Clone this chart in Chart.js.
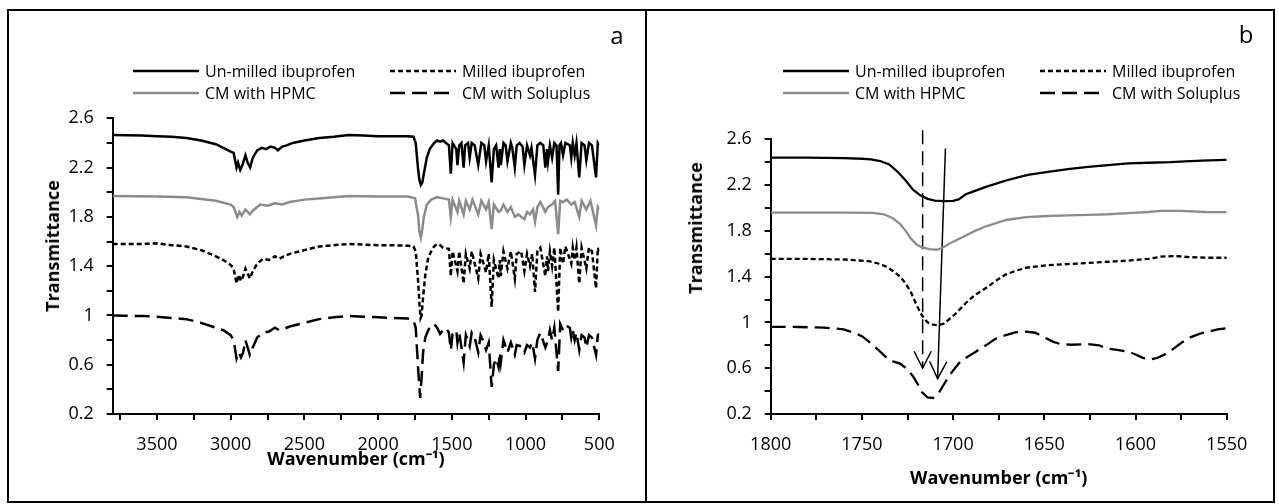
<!DOCTYPE html>
<html>
<head>
<meta charset="utf-8">
<script src="https://cdn.jsdelivr.net/npm/chart.js@4.4.1/dist/chart.umd.min.js"></script>
<style>
body { margin: 0; background: #fff; font-family: "Open Sans", sans-serif; }
#wrap { position: relative; width: 1279px; height: 504px; overflow: hidden; }
.frame { position: absolute; border: 2px solid #000; box-sizing: border-box; }
.chartbox { position: absolute; top: 0; height: 504px; }
.letter { position: absolute; font-size: 24px; color: #000; line-height: 1; transform: translate(-50%, -50%); }
.ytitle { position: absolute; font-size: 18px; font-weight: bold; color: #000; white-space: nowrap; line-height: 1; transform: translate(-50%, -50%) rotate(-90deg); }
.legend { position: absolute; font-size: 16px; color: #000; }
.legend .item { position: absolute; white-space: nowrap; display: flex; align-items: center; height: 22px; line-height: 22px; }
.legend svg { margin-right: 6px; }
</style>
</head>
<body>
<div id="wrap">
  <div class="frame" style="left:7px;top:9px;width:640px;height:494px;"></div>
  <div class="frame" style="left:645px;top:9px;width:630px;height:494px;"></div>
  <div class="chartbox" style="left:0;width:645px;"><canvas id="chartA"></canvas></div>
  <div class="chartbox" style="left:645px;width:634px;"><canvas id="chartB"></canvas></div>
  <div class="letter" style="left:617px;top:35px;">a</div>
  <div class="letter" style="left:1246px;top:34px;">b</div>
  <div class="ytitle" style="left:52px;top:246px;">Transmittance</div>
  <div class="ytitle" style="left:695px;top:228px;">Transmittance</div>
  <div class="legend" id="legendA" style="left:133px;top:60px;"></div>
  <div class="legend" id="legendB" style="left:783px;top:60px;"></div>
</div>
<script>
// series labels
const seriesNames = ["Un-milled ibuprofen", "Milled ibuprofen", "CM with HPMC", "CM with Soluplus"];

// panel a: full spectrum, [wavenumber, transmittance]
const unmilledA = [[3800,2.465],[3700,2.462],[3600,2.46],[3500,2.455],[3400,2.45],[3300,2.44],[3200,2.42],[3100,2.39],[3050,2.36],[3000,2.33],[2980,2.32],[2960,2.2],[2950,2.24],[2935,2.18],[2920,2.22],[2900,2.3],[2885,2.24],[2868,2.2],[2850,2.28],[2820,2.34],[2790,2.36],[2760,2.35],[2730,2.37],[2700,2.36],[2680,2.34],[2650,2.37],[2620,2.38],[2580,2.4],[2500,2.42],[2400,2.44],[2300,2.45],[2200,2.465],[2100,2.46],[2000,2.455],[1900,2.455],[1800,2.455],[1760,2.45],[1745,2.4],[1730,2.2],[1720,2.1],[1710,2.06],[1700,2.08],[1690,2.15],[1670,2.28],[1650,2.35],[1620,2.4],[1600,2.42],[1580,2.41],[1560,2.42],[1540,2.4],[1520,2.38],[1507,2.15],[1495,2.4],[1470,2.35],[1462,2.22],[1450,2.38],[1435,2.4],[1420,2.2],[1410,2.38],[1390,2.4],[1379,2.28],[1365,2.4],[1345,2.38],[1321,2.22],[1300,2.4],[1280,2.38],[1268,2.25],[1250,2.38],[1230,2.08],[1215,2.35],[1200,2.38],[1183,2.2],[1175,2.35],[1168,2.22],[1150,2.4],[1135,2.38],[1123,2.25],[1100,2.4],[1090,2.36],[1073,2.2],[1060,2.38],[1040,2.4],[1020,2.37],[1008,2.22],[990,2.38],[970,2.3],[960,2.36],[936,2.14],[920,2.38],[900,2.4],[880,2.38],[866,2.2],[855,2.35],[848,2.25],[835,2.38],[820,2.28],[805,2.4],[790,2.38],[779,1.98],[770,2.38],[760,2.4],[746,2.3],[730,2.4],[700,2.38],[690,2.28],[680,2.4],[667,2.3],[655,2.4],[636,2.12],[620,2.4],[600,2.38],[588,2.26],[570,2.4],[550,2.38],[522,2.12],[510,2.4],[500,2.38]];
const milledA = [[3800,1.58],[3600,1.58],[3500,1.585],[3400,1.57],[3300,1.56],[3200,1.53],[3100,1.48],[3050,1.45],[3000,1.41],[2980,1.38],[2960,1.26],[2945,1.33],[2930,1.28],[2915,1.32],[2900,1.38],[2870,1.3],[2850,1.36],[2820,1.42],[2780,1.46],[2740,1.45],[2700,1.48],[2670,1.46],[2640,1.48],[2600,1.5],[2500,1.53],[2400,1.56],[2300,1.57],[2200,1.58],[2100,1.575],[2000,1.57],[1900,1.57],[1800,1.565],[1760,1.56],[1745,1.52],[1730,1.3],[1720,1.1],[1712,0.98],[1705,1.0],[1695,1.15],[1680,1.33],[1660,1.47],[1640,1.52],[1620,1.56],[1600,1.58],[1580,1.57],[1560,1.55],[1520,1.54],[1507,1.32],[1495,1.52],[1462,1.36],[1450,1.52],[1420,1.26],[1405,1.5],[1379,1.38],[1365,1.52],[1321,1.3],[1305,1.5],[1268,1.35],[1250,1.5],[1230,1.07],[1215,1.45],[1183,1.3],[1175,1.45],[1168,1.32],[1150,1.52],[1123,1.38],[1100,1.52],[1073,1.3],[1060,1.5],[1030,1.52],[1008,1.36],[990,1.5],[970,1.4],[955,1.5],[936,1.19],[920,1.52],[900,1.55],[866,1.32],[855,1.48],[848,1.36],[835,1.52],[820,1.4],[805,1.55],[779,1.03],[765,1.55],[746,1.42],[730,1.56],[690,1.42],[680,1.55],[667,1.45],[655,1.55],[636,1.26],[620,1.55],[588,1.38],[570,1.55],[550,1.52],[522,1.22],[510,1.55],[500,1.52]];
const hpmcA = [[3800,1.97],[3500,1.965],[3300,1.96],[3100,1.93],[3000,1.9],[2980,1.88],[2955,1.8],[2940,1.84],[2925,1.81],[2900,1.86],[2870,1.82],[2850,1.85],[2800,1.9],[2750,1.89],[2700,1.91],[2650,1.9],[2600,1.92],[2500,1.94],[2400,1.95],[2200,1.97],[2000,1.965],[1800,1.965],[1750,1.95],[1730,1.82],[1720,1.68],[1710,1.63],[1700,1.7],[1690,1.8],[1670,1.9],[1640,1.94],[1600,1.96],[1560,1.95],[1520,1.94],[1507,1.8],[1495,1.94],[1462,1.84],[1450,1.93],[1420,1.82],[1405,1.93],[1379,1.86],[1360,1.94],[1321,1.82],[1300,1.93],[1268,1.86],[1250,1.92],[1230,1.7],[1215,1.9],[1183,1.84],[1168,1.85],[1150,1.9],[1123,1.84],[1100,1.88],[1073,1.8],[1050,1.82],[1030,1.8],[1008,1.78],[990,1.84],[970,1.82],[950,1.86],[936,1.76],[920,1.88],[900,1.92],[866,1.84],[848,1.88],[820,1.9],[800,1.93],[779,1.66],[765,1.93],[746,1.92],[720,1.94],[690,1.9],[667,1.92],[636,1.8],[620,1.93],[588,1.86],[560,1.93],[522,1.73],[510,1.88],[500,1.86]];
const soluplusA = [[3800,1.0],[3600,0.995],[3500,0.99],[3400,0.98],[3300,0.97],[3200,0.94],[3100,0.9],[3050,0.88],[3000,0.84],[2980,0.8],[2960,0.65],[2945,0.7],[2930,0.66],[2915,0.7],[2900,0.8],[2870,0.68],[2850,0.74],[2820,0.82],[2780,0.86],[2740,0.87],[2700,0.9],[2670,0.88],[2640,0.89],[2600,0.91],[2500,0.94],[2400,0.97],[2300,0.985],[2200,0.995],[2100,0.99],[2000,0.985],[1900,0.98],[1800,0.975],[1760,0.96],[1745,0.9],[1735,0.7],[1725,0.5],[1715,0.33],[1705,0.5],[1695,0.7],[1680,0.82],[1660,0.88],[1640,0.92],[1620,0.93],[1600,0.9],[1580,0.85],[1560,0.88],[1540,0.9],[1520,0.86],[1507,0.72],[1495,0.85],[1470,0.88],[1462,0.78],[1450,0.86],[1420,0.62],[1405,0.84],[1379,0.75],[1365,0.86],[1345,0.82],[1321,0.7],[1305,0.84],[1290,0.8],[1268,0.72],[1250,0.78],[1230,0.42],[1215,0.6],[1200,0.65],[1183,0.58],[1175,0.7],[1168,0.62],[1150,0.8],[1123,0.7],[1100,0.78],[1073,0.68],[1060,0.76],[1030,0.75],[1008,0.7],[990,0.76],[970,0.74],[955,0.78],[936,0.65],[920,0.8],[900,0.86],[866,0.74],[848,0.8],[835,0.88],[820,0.8],[805,0.9],[779,0.55],[765,0.93],[746,0.88],[730,0.92],[700,0.9],[690,0.82],[680,0.88],[667,0.8],[655,0.86],[636,0.72],[620,0.84],[600,0.82],[588,0.74],[570,0.84],[550,0.82],[522,0.68],[510,0.84],[500,0.85]];

// panel b: carbonyl region
const unmilledB = [[1800,2.44],[1780,2.44],[1760,2.435],[1750,2.43],[1745,2.425],[1740,2.41],[1735,2.38],[1730,2.31],[1726,2.24],[1722,2.16],[1718,2.11],[1714,2.08],[1710,2.065],[1705,2.06],[1700,2.062],[1697,2.075],[1693,2.12],[1688,2.15],[1682,2.185],[1676,2.215],[1671,2.24],[1665,2.265],[1659,2.29],[1648,2.315],[1637,2.34],[1626,2.36],[1615,2.375],[1604,2.39],[1593,2.395],[1581,2.4],[1570,2.41],[1560,2.415],[1550,2.42]];
const milledB = [[1800,1.555],[1780,1.555],[1760,1.55],[1746,1.535],[1741,1.515],[1737,1.49],[1733,1.45],[1729,1.4],[1726,1.34],[1723,1.26],[1720,1.15],[1717,1.06],[1714,1.0],[1711,0.98],[1708,0.975],[1705,0.99],[1702,1.03],[1699,1.07],[1693,1.17],[1688,1.24],[1682,1.3],[1676,1.37],[1671,1.42],[1665,1.455],[1659,1.48],[1648,1.5],[1637,1.51],[1626,1.52],[1615,1.53],[1604,1.54],[1593,1.555],[1586,1.575],[1578,1.58],[1570,1.57],[1560,1.565],[1550,1.565]];
const hpmcB = [[1800,1.96],[1780,1.96],[1760,1.96],[1744,1.958],[1738,1.945],[1733,1.91],[1729,1.86],[1726,1.8],[1723,1.73],[1720,1.68],[1717,1.655],[1713,1.64],[1709,1.635],[1706,1.65],[1702,1.69],[1698,1.72],[1693,1.76],[1688,1.8],[1682,1.84],[1676,1.87],[1671,1.895],[1660,1.92],[1648,1.93],[1637,1.935],[1626,1.94],[1615,1.945],[1604,1.955],[1593,1.965],[1586,1.975],[1575,1.975],[1562,1.965],[1550,1.963]];
const soluplusB = [[1800,0.962],[1785,0.96],[1771,0.955],[1760,0.94],[1755,0.913],[1750,0.88],[1746,0.83],[1741,0.76],[1737,0.7],[1733,0.66],[1729,0.64],[1725,0.59],[1722,0.53],[1719,0.45],[1717,0.39],[1714,0.345],[1711,0.34],[1708,0.38],[1705,0.46],[1702,0.54],[1699,0.6],[1696,0.66],[1691,0.71],[1688,0.74],[1682,0.8],[1677,0.855],[1671,0.89],[1666,0.913],[1660,0.92],[1655,0.91],[1650,0.87],[1645,0.83],[1641,0.81],[1635,0.805],[1626,0.81],[1620,0.8],[1615,0.77],[1610,0.76],[1604,0.745],[1600,0.72],[1596,0.69],[1592,0.675],[1588,0.69],[1584,0.72],[1580,0.76],[1575,0.82],[1570,0.87],[1565,0.9],[1560,0.92],[1555,0.94],[1550,0.95]];

// peak shift arrows in panel b
const dashedArrow = [[1716.7,2.68],[1716.7,0.6]];
const solidArrow = [[1704.2,2.52],[1708.5,0.51]];

// axis ranges and ticks
const yRange = [0.2, 2.6];
const yTicks = [0.2, 0.4, 0.6, 0.8, 1, 1.2, 1.4, 1.6, 1.8, 2, 2.2, 2.4, 2.6];
const yLabels = [0.2, 0.6, 1, 1.4, 1.8, 2.2, 2.6];
const xRangeA = [500, 3800];
const xTicksA = [500, 750, 1000, 1250, 1500, 1750, 2000, 2250, 2500, 2750, 3000, 3250, 3500, 3750];
const xLabelsA = [500, 1000, 1500, 2000, 2500, 3000, 3500];
const xRangeB = [1550, 1800];
const xTicksB = [1550, 1575, 1600, 1625, 1650, 1675, 1700, 1725, 1750, 1775, 1800];
const xLabelsB = [1550, 1600, 1650, 1700, 1750, 1800];

const GRAY = "#8c8c8c";
const styles = [
    { color: "#000", dash: [] },
    { color: "#000", dash: [5, 3] },
    { color: GRAY, dash: [] },
    { color: "#000", dash: [15, 7] }
];

function pts(arr) {
    return arr.map(p => ({ x: p[0], y: p[1] }));
}

function seriesDataset(arr, i, width) {
    return {
        label: seriesNames[i],
        data: pts(arr),
        borderColor: styles[i].color,
        borderDash: styles[i].dash,
        borderWidth: width,
        pointRadius: 0,
        tension: 0,
        fill: false
    };
}

// draws open arrow heads at the end of datasets flagged with arrowHead
const arrowPlugin = {
    id: "arrowHeads",
    afterDatasetsDraw(chart) {
        const ctx = chart.ctx;
        chart.data.datasets.forEach((ds, i) => {
            if (!ds.arrowHead) return;
            const els = chart.getDatasetMeta(i).data;
            const a = els[els.length - 2], b = els[els.length - 1];
            const ang = Math.atan2(b.y - a.y, b.x - a.x);
            const len = 19, spread = 0.47;
            ctx.save();
            ctx.strokeStyle = "#000";
            ctx.lineWidth = 1.5;
            ctx.setLineDash([]);
            ctx.beginPath();
            ctx.moveTo(b.x - len * Math.cos(ang - spread), b.y - len * Math.sin(ang - spread));
            ctx.lineTo(b.x, b.y);
            ctx.lineTo(b.x - len * Math.cos(ang + spread), b.y - len * Math.sin(ang + spread));
            ctx.stroke();
            ctx.restore();
        });
    }
};

function inList(list, v) {
    return list.some(l => Math.abs(l - v) < 1e-9);
}

function fixedTicks(list) {
    return s => { s.ticks = list.map(v => ({ value: v })); };
}

function makeOptions(cfg) {
    return {
        responsive: false,
        animation: false,
        layout: { padding: cfg.padding },
        plugins: { legend: { display: false }, tooltip: { enabled: false } },
        scales: {
            x: {
                type: "linear",
                reverse: true,
                min: cfg.xRange[0],
                max: cfg.xRange[1],
                afterBuildTicks: fixedTicks(cfg.xTicks),
                afterFit: s => { s.height = cfg.xHeight; },
                ticks: {
                    autoSkip: false,
                    maxRotation: 0,
                    padding: 14,
                    color: "#000",
                    font: { family: "Open Sans", size: 18 },
                    callback: v => (inList(cfg.xLabels, v) ? String(v) : "")
                },
                grid: { drawOnChartArea: false, drawTicks: true, tickLength: 6, color: "#000", lineWidth: 2 },
                border: { color: "#000", width: 2 },
                title: {
                    display: true,
                    text: "Wavenumber (cm⁻¹)",
                    color: "#000",
                    font: { family: "Open Sans", size: 18, weight: "bold" },
                    padding: { top: 0, bottom: cfg.xTitlePad }
                }
            },
            y: {
                min: yRange[0],
                max: yRange[1],
                afterBuildTicks: fixedTicks(yTicks),
                afterFit: s => { s.width = cfg.yWidth; },
                ticks: {
                    autoSkip: false,
                    padding: 13,
                    color: "#000",
                    font: { family: "Open Sans", size: 18 },
                    callback: v => (inList(yLabels, v) ? String(Math.round(v * 10) / 10) : "")
                },
                grid: { drawOnChartArea: false, drawTicks: true, tickLength: 6, color: "#000", lineWidth: 2 },
                border: { color: "#000", width: 2 }
            }
        }
    };
}

function setupCanvas(id, w, h) {
    const c = document.getElementById(id);
    c.width = w;
    c.height = h;
    c.style.width = w + "px";
    c.style.height = h + "px";
    return c;
}

// panel a
new Chart(setupCanvas("chartA", 645, 504), {
    type: "line",
    data: {
        datasets: [
            seriesDataset(unmilledA, 0, 2.5),
            seriesDataset(milledA, 1, 2.5),
            seriesDataset(hpmcA, 2, 2.5),
            seriesDataset(soluplusA, 3, 2.5)
        ]
    },
    options: makeOptions({
        padding: { left: 20, top: 118.3, right: 45.7, bottom: 10 },
        yWidth: 92.7,
        xHeight: 80,
        xRange: xRangeA, xTicks: xTicksA, xLabels: xLabelsA,
        xTitlePad: 23
    })
});

// panel b
const arrowSets = [
    { label: "dashed arrow", data: pts(dashedArrow), borderColor: "#000", borderWidth: 1.5, borderDash: [14, 7], pointRadius: 0, clip: false, arrowHead: true },
    { label: "solid arrow", data: pts(solidArrow), borderColor: "#000", borderWidth: 1.5, pointRadius: 0, clip: false, arrowHead: true }
];

new Chart(setupCanvas("chartB", 634, 504), {
    type: "line",
    data: {
        datasets: [
            seriesDataset(unmilledB, 0, 2.3),
            seriesDataset(milledB, 1, 2.3),
            seriesDataset(hpmcB, 2, 2.3),
            seriesDataset(soluplusB, 3, 2.3)
        ].concat(arrowSets)
    },
    options: makeOptions({
        padding: { left: 20, top: 139.3, right: 52.3, bottom: 2 },
        yWidth: 105.7,
        xHeight: 88,
        xRange: xRangeB, xTicks: xTicksB, xLabels: xLabelsB,
        xTitlePad: 12
    }),
    plugins: [arrowPlugin]
});

// html legends
function buildLegend(id, cols) {
    const box = document.getElementById(id);
    seriesNames.forEach((name, i) => {
        const row = Math.floor(i / 2), col = i % 2;
        const item = document.createElement("div");
        item.className = "item";
        item.style.left = cols[col] + "px";
        item.style.top = (row * 22) + "px";
        const dash = styles[i].dash.join(" ");
        item.innerHTML = '<svg width="66" height="6"><line x1="0" y1="3" x2="66" y2="3" stroke="' +
            styles[i].color + '" stroke-width="2.5" stroke-dasharray="' + dash + '"/></svg>' +
            '<span>' + name + '</span>';
        box.appendChild(item);
    });
}

buildLegend("legendA", [0, 257]);
buildLegend("legendB", [0, 257]);
</script>
</body>
</html>
